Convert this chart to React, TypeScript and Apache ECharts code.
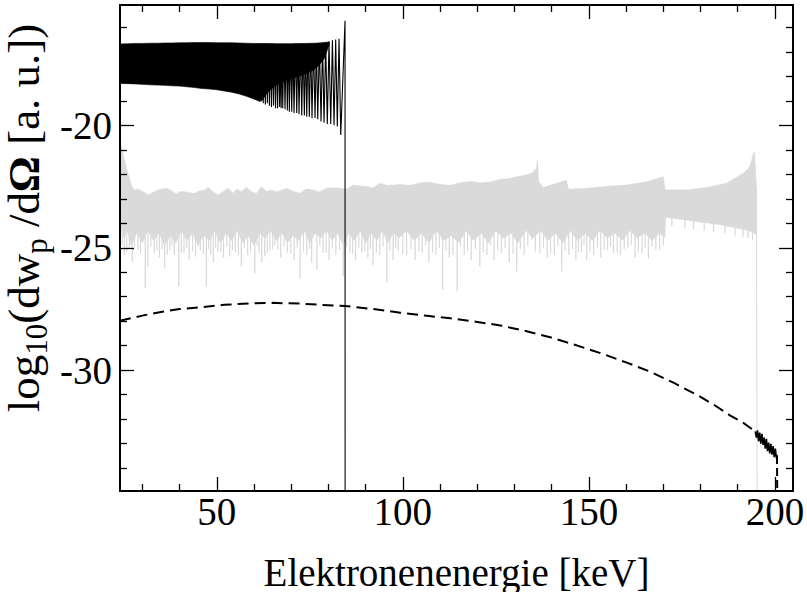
import React, { useEffect, useRef } from 'react';
import * as echarts from 'echarts';

const FONT = 'Liberation Serif';
const GRAY = 'rgb(218,218,218)';

// axis ranges and ticks
const X_MIN = 24;
const X_MAX = 204.85;
const Y_MIN = -34.93;
const Y_MAX = -15.09;
const xMajor = [50, 100, 150, 200];
const xMinor = [30, 40, 60, 70, 80, 90, 110, 120, 130, 140, 160, 170, 180, 190];
const yMajor = [-30, -25, -20];
const yMinor = [-34, -33, -32, -31, -29, -28, -27, -26, -24, -23, -22, -21, -19, -18, -17, -16];

// black spectrum: dense band (unresolved oscillation)
const bandX = [24, 26, 28, 30, 32, 34, 36, 38, 40, 42, 44, 46, 48, 50, 52, 54, 56, 58, 60, 61, 62, 63, 64, 66, 68, 70, 72, 74, 76, 77.5, 79, 80.2];
const bandTop = [-16.68, -16.67, -16.66, -16.66, -16.65, -16.65, -16.64, -16.64, -16.63, -16.63, -16.62, -16.62, -16.62, -16.63, -16.63, -16.63, -16.64, -16.65, -16.66, -16.66, -16.66, -16.66, -16.66, -16.67, -16.67, -16.67, -16.66, -16.66, -16.65, -16.64, -16.62, -16.6];
const bandBottom = [-18.29, -18.3, -18.31, -18.33, -18.35, -18.36, -18.37, -18.39, -18.4, -18.43, -18.46, -18.5, -18.52, -18.55, -18.6, -18.65, -18.72, -18.82, -18.93, -18.98, -19.02, -18.8, -18.6, -18.35, -18.2, -18.1, -18.0, -17.9, -17.75, -17.55, -17.25, -16.7];

// black spectrum: resolved oscillation (trough / peak), spike and drop
const blackOscX = [60.3, 60.58, 60.85, 61.13, 61.4, 61.68, 61.95, 62.23, 62.5, 62.78, 63.05, 63.33, 63.6, 63.88, 64.15, 64.43, 64.7, 64.98, 65.25, 65.53, 65.8, 66.08, 66.35, 66.63, 66.9, 67.1, 67.3, 67.52, 67.73, 68.04, 68.35, 68.66, 68.97, 69.24, 69.51, 69.83, 70.15, 70.46, 70.77, 71.13, 71.49, 71.8, 72.11, 72.48, 72.84, 73.19, 73.54, 73.86, 74.18, 74.53, 74.88, 75.24, 75.6, 76.0, 76.41, 76.78, 77.14, 77.58, 78.02, 78.43, 78.83, 79.27, 79.71, 80.17, 80.63, 81.08, 81.52, 81.96, 82.4, 82.86, 83.32, 84.47, 84.5];
const blackOscY = [-18.95, -16.66, -19.0, -16.66, -19.05, -16.66, -18.9, -16.66, -19.1, -16.66, -19.15, -16.66, -19.1, -16.66, -19.2, -16.66, -19.25, -16.66, -19.2, -16.67, -19.3, -16.67, -19.3, -16.67, -19.25, -16.67, -19.3, -16.67, -19.3, -16.67, -19.35, -16.67, -19.4, -16.67, -19.45, -16.67, -19.45, -16.67, -19.5, -16.66, -19.5, -16.66, -19.55, -16.66, -19.6, -16.66, -19.6, -16.65, -19.65, -16.65, -19.65, -16.65, -19.7, -16.64, -19.7, -16.64, -19.75, -16.63, -19.85, -16.62, -19.9, -16.6, -19.95, -16.57, -19.95, -16.53, -20.0, -16.5, -20.05, -16.47, -20.4, -15.73, -40];

// gray spectrum: upper edge of the noisy band
const grayUpX = [24.0, 25.0, 26.0, 27.3, 28.0, 28.9, 30.2, 31.55, 32.4, 33.8, 35.1, 36.5, 37.8, 39.1, 40.0, 41.4, 42.7, 44.1, 45.4, 46.8, 47.7, 49.0, 50.35, 51.7, 53.0, 54.4, 55.3, 56.6, 58.0, 59.3, 60.7, 62.0, 63.4, 64.7, 66.1, 67.5, 68.8, 70.5, 72.4, 74.0, 75.96, 77.5, 79.55, 81.0, 83.1, 84.8, 86.7, 88.5, 90.3, 92.0, 93.9, 95.7, 97.4, 99.3, 102.0, 104.7, 107.5, 110.1, 112.8, 115.4, 118.0, 120.8, 123.5, 126.2, 128.5, 130.6, 132.6, 134.6, 135.9, 136.2, 136.5, 137.7, 141.3, 144.0, 144.5, 149.4, 154.7, 160.1, 165.5, 170.0, 170.5, 176.2, 181.6, 187.0, 191.5, 193.3, 194.2, 194.5, 195.0];
const grayUpY = [-20.6, -21.3, -21.9, -22.55, -22.64, -22.61, -22.71, -22.85, -22.78, -22.67, -22.61, -22.57, -22.67, -22.81, -22.71, -22.71, -22.75, -22.78, -22.67, -22.64, -22.53, -22.71, -22.85, -22.71, -22.57, -22.78, -22.61, -22.71, -22.53, -22.71, -22.78, -22.51, -22.71, -22.64, -22.71, -22.65, -22.57, -22.7, -22.78, -22.6, -22.64, -22.72, -22.57, -22.55, -22.57, -22.62, -22.44, -22.48, -22.5, -22.55, -22.37, -22.45, -22.44, -22.42, -22.45, -22.35, -22.33, -22.42, -22.45, -22.35, -22.3, -22.35, -22.32, -22.2, -22.18, -22.1, -22.05, -21.96, -21.76, -21.39, -22.3, -22.54, -22.37, -22.24, -22.61, -22.57, -22.5, -22.44, -22.31, -22.1, -22.64, -22.64, -22.54, -22.37, -21.96, -21.69, -21.15, -21.08, -22.5];

// gray spectrum: lower edge of the dense core
const grayLowX = [24, 25, 26, 27, 28.5, 30, 31.5, 33, 34.5, 36, 37.5, 39, 40.5, 42, 43.5, 45, 46.5, 48, 49.5, 51, 52.5, 54, 55.5, 57, 58.5, 60, 61.5, 63, 64.5, 66, 67.5, 69, 70.5, 72, 73.5, 75, 76.5, 78, 79.5, 81, 82.5, 84, 85.5, 87, 88.5, 90, 91.5, 93, 94.5, 96, 97.5, 99, 101, 103, 105, 107, 109, 111, 113, 115, 117, 119, 121, 123, 125, 127, 129, 131, 133, 135, 137, 139, 141, 143, 145, 147, 149, 151, 153, 155, 157, 159, 161, 163, 165, 167, 169, 170.4, 170.6, 175, 180, 185, 190, 193, 194.5, 195.0];
const grayLowY = [-24.0, -24.6, -24.3, -24.9, -24.4, -24.8, -24.3, -24.7, -24.4, -24.9, -24.5, -24.8, -24.3, -24.7, -24.4, -24.9, -24.5, -24.7, -24.3, -24.8, -24.4, -24.7, -24.3, -24.8, -24.5, -24.9, -24.4, -24.6, -24.3, -24.7, -24.4, -24.8, -24.5, -24.7, -24.3, -24.8, -24.4, -24.6, -24.3, -24.7, -24.4, -24.9, -24.4, -24.7, -24.3, -24.8, -24.4, -24.7, -24.3, -24.8, -24.4, -24.6, -24.3, -24.7, -24.4, -24.8, -24.3, -24.7, -24.5, -24.8, -24.3, -24.7, -24.4, -24.8, -24.3, -24.6, -24.4, -24.8, -24.3, -24.6, -24.3, -24.7, -24.4, -24.8, -24.3, -24.7, -24.4, -24.7, -24.3, -24.6, -24.4, -24.7, -24.3, -24.6, -24.4, -24.7, -24.4, -24.6, -23.75, -23.85, -23.95, -24.05, -24.2, -24.3, -24.4, -24.5];

// gray spectrum: deep downward spikes
const spikeX = [25.2, 26.5, 27.3, 28.8, 30.8, 31.5, 33.2, 34.6, 36.0, 37.4, 38.6, 39.8, 41.2, 42.6, 44.3, 45.6, 47.2, 48.4, 49.1, 50.35, 51.8, 53.5, 55.0, 56.6, 58.3, 60.2, 61.4, 62.1, 62.9, 64.3, 65.6, 67.2, 69.0, 70.8, 72.4, 74.2, 75.5, 76.9, 78.6, 80.2, 82.0, 84.0, 85.8, 87.3, 89.0, 90.6, 92.0, 93.8, 95.7, 97.4, 98.8, 101.0, 103.3, 105.2, 107.0, 108.9, 110.7, 112.5, 114.6, 116.5, 118.4, 120.7, 122.6, 124.5, 126.5, 128.6, 130.6, 132.6, 134.6, 136.8, 138.8, 140.7, 142.7, 144.6, 146.5, 148.0, 149.4, 151.3, 153.2, 155.0, 156.6, 158.5, 160.5, 162.4, 164.3, 166.0, 168.0, 170.0, 172.3, 175.8, 178.1, 181.0, 183.5, 186.6, 189.3, 191.4, 192.8, 194.0];
const spikeY = [-25.3, -25.0, -25.57, -25.1, -26.65, -25.77, -25.2, -25.4, -25.83, -25.1, -25.3, -26.58, -25.2, -25.5, -25.36, -25.1, -26.58, -25.3, -25.6, -25.16, -25.4, -25.36, -25.2, -25.77, -25.3, -26.04, -25.2, -25.6, -25.36, -25.1, -24.9, -25.4, -25.2, -25.5, -26.25, -25.3, -25.6, -25.9, -25.2, -25.5, -25.3, -26.15, -25.2, -25.5, -25.2, -25.4, -25.7, -25.3, -26.4, -25.5, -25.1, -25.3, -25.5, -25.2, -25.6, -25.3, -26.72, -25.4, -26.79, -25.3, -25.5, -25.77, -25.3, -25.5, -25.2, -25.6, -25.97, -25.3, -24.67, -25.2, -25.4, -25.3, -25.97, -25.3, -25.5, -25.2, -25.5, -25.3, -25.4, -25.1, -25.22, -25.3, -25.0, -25.4, -25.2, -25.43, -25.1, -24.89, -24.1, -24.2, -24.25, -24.3, -24.35, -24.4, -24.5, -24.55, -24.6, -24.7];

// gray spectrum: shallow spikes forming the fringe below the core
const fringeX = [24.6, 25.8, 27.9, 29.5, 32.3, 33.9, 35.3, 36.7, 38.0, 40.5, 41.9, 43.5, 45.0, 46.4, 47.8, 49.7, 51.1, 52.7, 54.2, 55.8, 57.4, 59.1, 60.8, 63.6, 65.0, 66.4, 68.1, 69.9, 71.6, 73.3, 75.0, 77.7, 79.4, 81.1, 83.0, 84.9, 86.5, 88.2, 89.8, 91.3, 92.9, 94.7, 96.5, 98.1, 100.0, 102.2, 104.3, 106.1, 108.0, 109.8, 111.6, 113.5, 115.5, 117.4, 119.5, 121.6, 123.5, 125.5, 127.5, 129.6, 131.6, 133.6, 135.6, 137.8, 139.7, 141.7, 143.6, 145.6, 147.2, 148.7, 150.3, 152.3, 154.1, 155.8, 157.6, 159.5, 161.4, 163.3, 165.1, 167.0, 169.0];
const fringeY = [-24.9, -25.15, -25.0, -25.25, -24.95, -25.1, -25.05, -25.3, -24.9, -25.2, -25.0, -25.15, -24.95, -25.25, -25.05, -25.0, -25.2, -24.95, -25.1, -25.3, -25.0, -25.15, -24.9, -25.2, -25.05, -25.1, -24.95, -25.25, -25.0, -25.15, -25.05, -24.9, -25.2, -25.0, -25.1, -24.95, -25.25, -25.0, -25.15, -25.05, -25.2, -24.95, -25.1, -25.0, -25.25, -25.05, -25.15, -24.9, -25.2, -25.0, -25.1, -25.3, -24.95, -25.15, -25.05, -25.2, -24.9, -25.1, -25.0, -25.25, -25.05, -24.95, -25.15, -25.0, -25.2, -24.95, -25.1, -25.05, -25.2, -24.9, -25.15, -25.0, -25.1, -24.95, -25.2, -25.05, -24.9, -25.15, -25.0, -24.95, -25.1];

// gray spectrum: final drop
const grayDropX = [195.0, 195.3];
const grayDropY = [-22.5, -40];

// dashed curve (smooth part)
const dashX = [24, 30, 35, 40, 45.5, 52, 58.9, 65, 72.4, 78, 84.5, 92, 99.3, 106, 112.8, 120, 126.2, 133, 139.6, 146, 153.1, 160, 166.5, 173, 179.9, 184, 188, 191.5, 194.7];
const dashY = [-27.98, -27.77, -27.62, -27.5, -27.43, -27.33, -27.27, -27.25, -27.28, -27.33, -27.38, -27.5, -27.65, -27.77, -27.88, -28.03, -28.17, -28.4, -28.65, -28.95, -29.3, -29.68, -30.06, -30.53, -31.08, -31.45, -31.85, -32.15, -32.5];
// curve: noisy end part
const noiseX = [194.7, 195.0, 195.3, 195.6, 195.9, 196.2, 196.5, 196.8, 197.1, 197.4, 197.7, 198.0, 198.3, 198.6, 198.9, 199.2, 199.5, 199.8, 200.1, 200.4, 200.6];
const noiseY = [-32.5, -32.75, -32.45, -32.9, -32.55, -33.0, -32.6, -33.05, -32.75, -33.2, -32.8, -33.3, -32.95, -33.4, -33.0, -33.45, -33.1, -33.55, -33.2, -33.6, -33.45];
// curve: final drop
const endX = [200.55, 200.65];
const endY = [-33.5, -36];

const zip = (xs: number[], ys: number[]) => xs.map((x, i) => [x, ys[i]]);

function axisSet(kind: 'x' | 'y', position: string, ticks: number[], len: number, line: boolean, labels: boolean) {
  const isX = kind === 'x';
  return {
    type: 'value',
    position,
    min: isX ? X_MIN : Y_MIN,
    max: isX ? X_MAX : Y_MAX,
    z: 10,
    axisLine: { show: line, onZero: false, lineStyle: { color: '#000', width: 2 } },
    axisTick: { show: true, inside: true, length: len, customValues: ticks, lineStyle: { color: '#000', width: 1.3 } },
    axisLabel: labels
      ? {
          show: true,
          customValues: ticks,
          color: '#000',
          fontFamily: FONT,
          fontSize: 39,
          fontWeight: 'normal',
          margin: isX ? 1 : 8,
          formatter: (v: number) => '{t|' + String(v) + '}',
          rich: {
            t: { fontFamily: FONT, fontSize: 39, fontWeight: 'normal', color: '#000' },
          },
        }
      : { show: false },
    splitLine: { show: false },
    minorTick: { show: false },
  };
}

function spikeSeries(name: string, xs: number[], ys: number[], width: number) {
  return {
    type: 'custom',
    name,
    silent: true,
    data: zip(xs, ys),
    renderItem: (_p: any, api: any) => {
      const x = api.value(0);
      const y = api.value(1);
      const a = api.coord([x, -23.6]);
      const b = api.coord([x, y]);
      return {
        type: 'line',
        shape: { x1: a[0], y1: a[1], x2: b[0], y2: b[1] },
        style: { stroke: GRAY, lineWidth: width },
      };
    },
    z: 2,
  };
}

export default function App() {
  const ref = useRef<HTMLDivElement>(null);
  useEffect(() => {
    const chart = echarts.init(ref.current!, null, { renderer: 'svg' });
    const option: any = {
      animation: false,
      backgroundColor: '#fff',
      textStyle: { fontFamily: FONT },
      grid: { left: 120, top: 5, right: 14, bottom: 101, containLabel: false, outerBoundsMode: 'none' },
      xAxis: [
        axisSet('x', 'bottom', xMajor, 14, true, true),
        axisSet('x', 'bottom', xMinor, 7, false, false),
        axisSet('x', 'top', xMajor, 14, true, false),
        axisSet('x', 'top', xMinor, 7, false, false),
      ],
      yAxis: [
        axisSet('y', 'left', yMajor, 14, true, true),
        axisSet('y', 'left', yMinor, 7, false, false),
        axisSet('y', 'right', yMajor, 14, true, false),
        axisSet('y', 'right', yMinor, 7, false, false),
      ],
      series: [
        {
          type: 'custom',
          name: 'gray band',
          silent: true,
          data: [[100, -23]],
          renderItem: (_p: any, api: any) => {
            const up = zip(grayUpX, grayUpY).map((d) => api.coord(d));
            const lo = zip(grayLowX, grayLowY).map((d) => api.coord(d)).reverse();
            return {
              type: 'polygon',
              shape: { points: up.concat(lo) },
              style: { fill: GRAY, stroke: GRAY, lineWidth: 0.6 },
            };
          },
          z: 2,
        },
        spikeSeries('gray spikes', spikeX, spikeY, 1.3),
        spikeSeries('gray fringe', fringeX, fringeY, 1.2),
        {
          type: 'line',
          name: 'gray drop',
          data: zip(grayDropX, grayDropY),
          showSymbol: false,
          symbol: 'none',
          lineStyle: { color: GRAY, width: 1 },
          z: 2,
        },
        {
          type: 'custom',
          name: 'black band',
          silent: true,
          data: [[40, -17.5]],
          renderItem: (_p: any, api: any) => {
            const up = zip(bandX, bandTop).map((d) => api.coord(d));
            const lo = zip(bandX, bandBottom).map((d) => api.coord(d)).reverse();
            return {
              type: 'polygon',
              shape: { points: up.concat(lo) },
              style: { fill: '#000', stroke: '#000', lineWidth: 0.6 },
            };
          },
          z: 3,
        },
        {
          type: 'line',
          name: 'black osc',
          data: zip(blackOscX, blackOscY),
          showSymbol: false,
          symbol: 'none',
          lineStyle: { color: '#000', width: 1.1 },
          z: 3,
        },
        {
          type: 'line',
          name: 'dashed',
          data: zip(dashX, dashY),
          showSymbol: false,
          symbol: 'none',
          lineStyle: { color: '#000', width: 2, type: [11, 6] },
          z: 4,
        },
        {
          type: 'line',
          name: 'dashed noise',
          data: zip(noiseX, noiseY),
          showSymbol: false,
          symbol: 'none',
          lineStyle: { color: '#000', width: 1.6 },
          z: 4,
        },
        {
          type: 'line',
          name: 'dashed end',
          data: zip(endX, endY),
          showSymbol: false,
          symbol: 'none',
          lineStyle: { color: '#000', width: 2, type: [8, 4] },
          z: 4,
        },
      ],
      graphic: [
        {
          type: 'text',
          x: 456.5,
          y: 572,
          style: {
            text: 'Elektronenenergie [keV]',
            fontFamily: FONT,
            fontSize: 39,
            fill: '#000',
            align: 'center',
            verticalAlign: 'middle',
          },
        },
        {
          type: 'text',
          x: 24,
          y: 218,
          rotation: Math.PI / 2,
          style: {
            text: '{n|log}{s|10}{n|(dw}{s|p}{n| /d}{b|Ω}{n| [a. u.])}',
            align: 'center',
            verticalAlign: 'middle',
            fill: '#000',
            rich: {
              n: { fontFamily: FONT, fontSize: 45, fontWeight: 'normal', fill: '#000' },
              s: { fontFamily: FONT, fontSize: 31, fontWeight: 'normal', fill: '#000', padding: [25, 0, 0, 0] },
              b: { fontFamily: FONT, fontSize: 45, fontWeight: 'bold', fill: '#000' },
            },
          },
        },
      ],
    };
    chart.setOption(option);
    return () => chart.dispose();
  }, []);
  return <div ref={ref} style={{ position: 'absolute', left: 0, top: 0, width: 807, height: 592 }} />;
}
